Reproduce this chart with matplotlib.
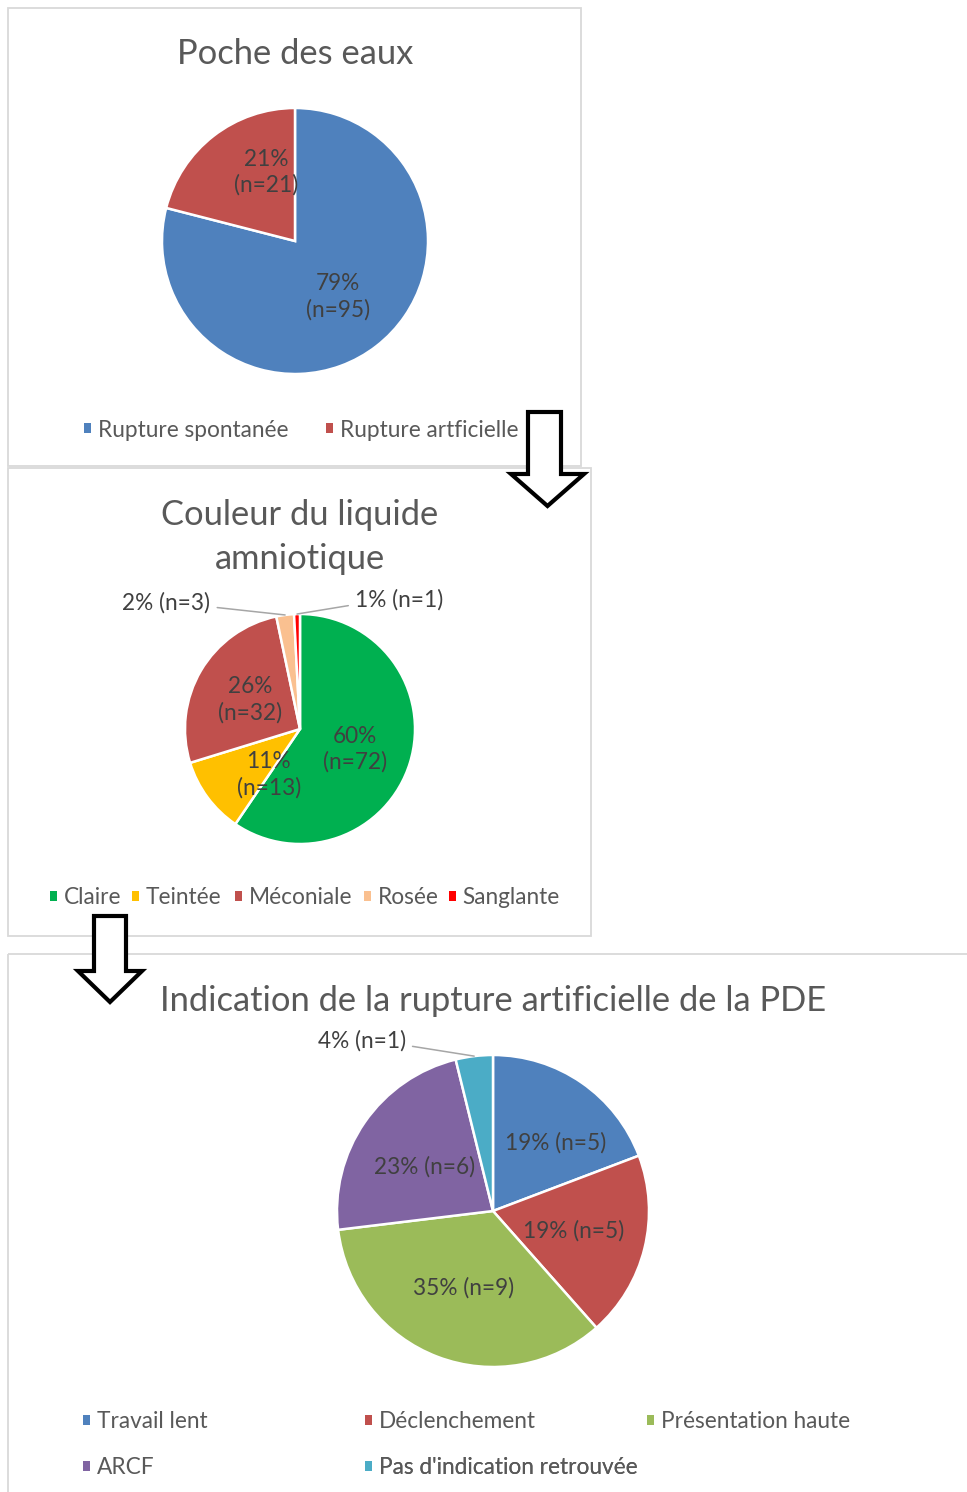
import matplotlib
matplotlib.use("Agg")
import matplotlib.pyplot as plt
from matplotlib.patches import Rectangle, Polygon, Patch
import numpy as np

plt.rcParams['font.family'] = ['Lato', 'DejaVu Sans']

W, H = 967, 1492

# ---------------- data ----------------
poche_labels = ["Rupture spontanée", "Rupture artficielle"]
poche_pct = [79, 21]
poche_n = [95, 21]
poche_colors = ["#4F81BD", "#C0504D"]

couleur_labels = ["Claire", "Teintée", "Méconiale", "Rosée", "Sanglante"]
couleur_n = [72, 13, 32, 3, 1]
couleur_colors = ["#00B050", "#FFC000", "#C0504D", "#FAC090", "#FF0000"]

indic_labels = ["Travail lent", "Déclenchement", "Présentation haute", "ARCF",
                "Pas d'indication retrouvée"]
indic_n = [5, 5, 9, 6, 1]
indic_colors = ["#4F81BD", "#C0504D", "#9BBB59", "#8064A2", "#4BACC6"]

TITLE_C = "#595959"
LABEL_C = "#404040"
LEG_C = "#595959"
FS_LAB = 16.3
FS_TITLE = 24.8

fig = plt.figure(figsize=(W / 100, H / 100), dpi=100)

# background axes in pixel coords
bg = fig.add_axes([0, 0, 1, 1], zorder=0)
bg.set_xlim(0, W)
bg.set_ylim(H, 0)
bg.axis("off")
for (x0, y0, x1, y1) in [(8, 8, 581, 466), (8, 468, 591, 936), (8, 954, 975, 1500)]:
    bg.add_patch(Rectangle((x0, y0), x1 - x0, y1 - y0, fill=False,
                           edgecolor="#D9D9D9", lw=1.3))


def fx(x):
    return x / W


def fy(y):
    return 1 - y / H


def pie_axes(cx, cy, r, pad=1.6):
    s = 2 * pad * r
    ax = fig.add_axes([fx(cx - s / 2), fy(cy + s / 2), s / W, s / H], zorder=2)
    ax.set_xlim(-pad, pad)
    ax.set_ylim(-pad, pad)
    ax.axis("off")
    return ax


def legend_item(x, y, color, label, fs=FS_LAB):
    leg = bg.legend([Patch(facecolor=color, edgecolor="none")], [label],
                    loc="center left", bbox_to_anchor=(fx(x), fy(y)),
                    bbox_transform=fig.transFigure, frameon=False,
                    fontsize=fs, handlelength=0.32, handleheight=0.32,
                    handletextpad=0.28, borderpad=0, borderaxespad=0,
                    labelcolor=LEG_C)
    bg.add_artist(leg)


def nudge(texts, moves):
    for i, (dx, dy) in moves.items():
        x, y = texts[i].get_position()
        texts[i].set_position((x + dx, y + dy))


wedge_kw = dict(edgecolor="white", linewidth=1.8)

# ---------------- panel 1 ----------------
ax1 = pie_axes(295, 241, 133)
lab1 = [f"{p}%\n(n={n})" for p, n in zip(poche_pct, poche_n)]
w1, t1 = ax1.pie(poche_pct, colors=poche_colors, startangle=90, counterclock=False,
                 labels=lab1, labeldistance=0.53, wedgeprops=wedge_kw,
                 textprops=dict(fontsize=FS_LAB, color=LABEL_C, ha="center",
                                va="center", linespacing=1.25))
ax1.set_xlim(-1.6, 1.6)
ax1.set_ylim(-1.6, 1.6)
for t in t1:
    t.set_horizontalalignment("center")
nudge(t1, {1: (0.107, 0.10)})
fig.text(fx(295), fy(64), "Poche des eaux", ha="center", va="baseline",
         fontsize=FS_TITLE, color=TITLE_C)
legend_item(84, 430, poche_colors[0], poche_labels[0])
legend_item(326, 430, poche_colors[1], poche_labels[1])

# ---------------- panel 2 ----------------
ax2 = pie_axes(300, 729, 115)
tot2 = sum(couleur_n)
lab2 = [f"{round(100 * n / tot2)}%\n(n={n})" if n / tot2 > 0.05 else ""
        for n in couleur_n]
w2, t2 = ax2.pie(couleur_n, colors=couleur_colors, startangle=90, counterclock=False,
                 labels=lab2, labeldistance=0.5, wedgeprops=wedge_kw,
                 textprops=dict(fontsize=FS_LAB, color=LABEL_C, va="center",
                                linespacing=1.25))
ax2.set_xlim(-1.6, 1.6)
ax2.set_ylim(-1.6, 1.6)
for t in t2:
    t.set_horizontalalignment("center")
nudge(t2, {0: (0.0, -0.03), 1: (0.13, -0.10)})
small_pos2 = {3: (-0.78, 1.10, "right", (1.0, 0.3)), 4: (0.48, 1.12, "left", (0.0, 0.3))}
for i, (tx, ty, ha, rp) in small_pos2.items():
    w = w2[i]
    ang = np.deg2rad((w.theta1 + w.theta2) / 2)
    ax2.annotate(f"{round(100 * couleur_n[i] / tot2)}% (n={couleur_n[i]})",
                 xy=(np.cos(ang), np.sin(ang)), xytext=(tx, ty), ha=ha, va="center",
                 fontsize=FS_LAB, color=LABEL_C,
                 arrowprops=dict(arrowstyle="-", color="#A6A6A6", lw=1.1,
                                 relpos=rp, shrinkA=3, shrinkB=0))
fig.text(fx(300), fy(525), "Couleur du liquide", ha="center", va="baseline",
         fontsize=FS_TITLE, color=TITLE_C)
fig.text(fx(300), fy(569), "amniotique", ha="center", va="baseline",
         fontsize=FS_TITLE, color=TITLE_C)
for x, c, l in zip([50, 132, 235, 364, 449], couleur_colors, couleur_labels):
    legend_item(x, 898, c, l)

# ---------------- panel 3 ----------------
ax3 = pie_axes(493, 1211, 156)
tot3 = sum(indic_n)
lab3 = [f"{round(100 * n / tot3)}% (n={n})" if n / tot3 > 0.05 else ""
        for n in indic_n]
w3, t3 = ax3.pie(indic_n, colors=indic_colors, startangle=90, counterclock=False,
                 labels=lab3, labeldistance=0.53, wedgeprops=wedge_kw,
                 textprops=dict(fontsize=FS_LAB, color=LABEL_C, va="center"))
ax3.set_xlim(-1.6, 1.6)
ax3.set_ylim(-1.6, 1.6)
for t in t3:
    t.set_horizontalalignment("center")
nudge(t3, {0: (0.10, 0.0), 3: (0.0, -0.02)})
w = w3[4]
ang = np.deg2rad((w.theta1 + w.theta2) / 2)
ax3.annotate(f"{round(100 * indic_n[4] / tot3)}% (n={indic_n[4]})",
             xy=(np.cos(ang), np.sin(ang)), xytext=(-0.56, 1.09), ha="right",
             va="center", fontsize=FS_LAB, color=LABEL_C,
             arrowprops=dict(arrowstyle="-", color="#A6A6A6", lw=1.1,
                             relpos=(1.0, 0.3), shrinkA=3, shrinkB=0))
fig.text(fx(493), fy(1011), "Indication de la rupture artificielle de la PDE",
         ha="center", va="baseline", fontsize=FS_TITLE, color=TITLE_C)
leg_pos3 = [(83, 1422), (365, 1422), (647, 1422), (83, 1468), (365, 1468)]
for (x, y), c, l in zip(leg_pos3, indic_colors, indic_labels):
    legend_item(x, y, c, l)

# ---------------- arrows (overlay) ----------------
ov = fig.add_axes([0, 0, 1, 1], zorder=10)
ov.set_xlim(0, W)
ov.set_ylim(H, 0)
ov.axis("off")
ov.patch.set_alpha(0)


def down_arrow(xl, xr, top, base, hl, hr, tipy):
    xm = (hl + hr) / 2
    pts = [(xl, top), (xr, top), (xr, base), (hr, base), (xm, tipy),
           (hl, base), (xl, base)]
    ov.add_patch(Polygon(pts, closed=True, facecolor="white", edgecolor="black",
                         lw=3.0, joinstyle="miter"))


down_arrow(528, 561, 412, 474, 511, 584, 506)
down_arrow(94, 126, 916, 971, 78, 142, 1002)

fig.savefig("out.png", dpi=100)
